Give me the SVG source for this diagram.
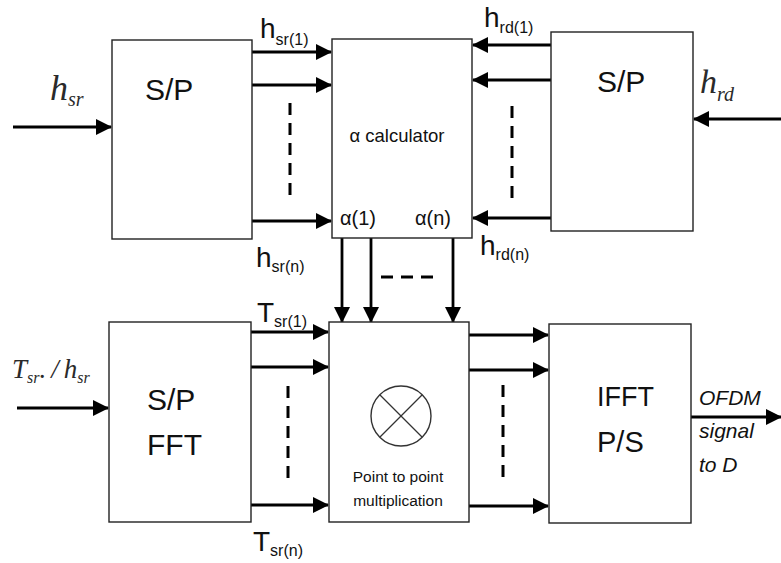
<svg xmlns="http://www.w3.org/2000/svg" width="781" height="563" viewBox="0 0 781 563">
<style>
.box{fill:#fff;stroke:#222;stroke-width:1.4}
.ar{stroke:#000;stroke-width:2.8;fill:none}
.dash{stroke:#000;stroke-width:3;stroke-dasharray:12,8;fill:none}
.t{font-family:"Liberation Sans",Arial,sans-serif;fill:#111}
.m{font-family:"Liberation Serif","Times New Roman",serif;font-style:italic;fill:#2a2a2a}
</style>
<defs>
<marker id="ah" viewBox="0 0 16 16" refX="15" refY="8" markerWidth="16" markerHeight="16" markerUnits="userSpaceOnUse" orient="auto">
<path d="M0,0 L16,8 L0,16 Z" fill="#000"/>
</marker>
</defs>
<rect width="781" height="563" fill="#fff"/>
<g id="connectors">
<line class="ar" x1="13" y1="127" x2="111" y2="127" marker-end="url(#ah)"/>
<line class="ar" x1="252" y1="52" x2="331" y2="52" marker-end="url(#ah)"/>
<line class="ar" x1="252" y1="85" x2="331" y2="85" marker-end="url(#ah)"/>
<line class="ar" x1="252" y1="221" x2="331" y2="221" marker-end="url(#ah)"/>
<line class="dash" x1="290" y1="103" x2="290" y2="195"/>
<line class="ar" x1="551" y1="45" x2="473" y2="45" marker-end="url(#ah)"/>
<line class="ar" x1="551" y1="80" x2="473" y2="80" marker-end="url(#ah)"/>
<line class="ar" x1="551" y1="218" x2="473" y2="218" marker-end="url(#ah)"/>
<line class="dash" x1="512" y1="106" x2="512" y2="198"/>
<line class="ar" x1="781" y1="119" x2="694" y2="119" marker-end="url(#ah)"/>
<line class="ar" x1="342" y1="238" x2="342" y2="322" marker-end="url(#ah)"/>
<line class="ar" x1="371" y1="238" x2="371" y2="322" marker-end="url(#ah)"/>
<line class="ar" x1="453" y1="238" x2="453" y2="322" marker-end="url(#ah)"/>
<line class="dash" x1="381" y1="277" x2="435" y2="277"/>
<line class="ar" x1="17" y1="408" x2="108" y2="408" marker-end="url(#ah)"/>
<line class="ar" x1="251" y1="332" x2="328" y2="332" marker-end="url(#ah)"/>
<line class="ar" x1="251" y1="367" x2="328" y2="367" marker-end="url(#ah)"/>
<line class="ar" x1="251" y1="505" x2="328" y2="505" marker-end="url(#ah)"/>
<line class="dash" x1="288" y1="386" x2="288" y2="478"/>
<line class="ar" x1="469" y1="335" x2="548" y2="335" marker-end="url(#ah)"/>
<line class="ar" x1="469" y1="370" x2="548" y2="370" marker-end="url(#ah)"/>
<line class="ar" x1="469" y1="506" x2="548" y2="506" marker-end="url(#ah)"/>
<line class="dash" x1="503" y1="385" x2="503" y2="477"/>
<line class="ar" x1="691" y1="417" x2="781" y2="417" marker-end="url(#ah)"/>
</g>
<g id="sp1">
<rect class="box" x="112" y="40" width="140" height="199"/>
<text class="t" x="145" y="100" font-size="30">S/P</text>
</g>
<g id="alpha">
<rect class="box" x="332" y="39" width="140" height="199"/>
<text class="t" x="397" y="142" font-size="18.5" text-anchor="middle">α calculator</text>
<text class="t" x="340" y="225" font-size="20">α(1)</text>
<text class="t" x="415" y="225" font-size="20">α(n)</text>
</g>
<g id="sp2">
<rect class="box" x="551" y="32" width="142" height="199"/>
<text class="t" x="597" y="92" font-size="30">S/P</text>
</g>
<g id="spfft">
<rect class="box" x="109" y="322" width="142" height="200"/>
<text class="t" x="147" y="410" font-size="30">S/P</text>
<text class="t" x="147" y="455" font-size="30">FFT</text>
</g>
<g id="mult">
<rect class="box" x="329" y="322" width="140" height="200"/>
<circle cx="401" cy="416" r="30" fill="none" stroke="#333" stroke-width="1.4"/>
<line x1="380" y1="395" x2="422" y2="437" stroke="#333" stroke-width="1.2"/>
<line x1="422" y1="395" x2="380" y2="437" stroke="#333" stroke-width="1.2"/>
<text class="t" x="398" y="482" font-size="15.5" text-anchor="middle">Point to point</text>
<text class="t" x="398" y="506" font-size="15.5" text-anchor="middle">multiplication</text>
</g>
<g id="ifft">
<rect class="box" x="549" y="324" width="142" height="199"/>
<text class="t" x="597" y="406" font-size="27">IFFT</text>
<text class="t" x="597" y="452" font-size="29">P/S</text>
</g>
<g id="labels">
<text class="m" x="50" y="100" font-size="36">h<tspan font-size="20" dy="6">sr</tspan></text>
<text class="m" x="700" y="93" font-size="34">h<tspan font-size="20" dy="8">rd</tspan></text>
<text class="m" x="12" y="378" font-size="27">T<tspan font-size="16" dy="5">sr</tspan><tspan dy="-5">.</tspan><tspan dx="5">/</tspan><tspan dx="5">h</tspan><tspan font-size="16" dy="5">sr</tspan></text>
<text class="t" x="260" y="38" font-size="28">h<tspan font-size="16" dy="7">sr(1)</tspan></text>
<text class="t" x="256" y="267" font-size="28">h<tspan font-size="16" dy="5">sr(n)</tspan></text>
<text class="t" x="484" y="27" font-size="28">h<tspan font-size="16" dy="6">rd(1)</tspan></text>
<text class="t" x="480" y="255" font-size="28">h<tspan font-size="16" dy="5">rd(n)</tspan></text>
<text class="t" x="257" y="322" font-size="28">T<tspan font-size="16" dy="5">sr(1)</tspan></text>
<text class="t" x="253" y="551" font-size="28">T<tspan font-size="16" dy="5">sr(n)</tspan></text>
<text class="t" x="699" y="405" font-size="21" font-style="italic">OFDM</text>
<text class="t" x="699" y="438" font-size="21" font-style="italic">signal</text>
<text class="t" x="699" y="472" font-size="21" font-style="italic">to D</text>
</g>
</svg>
